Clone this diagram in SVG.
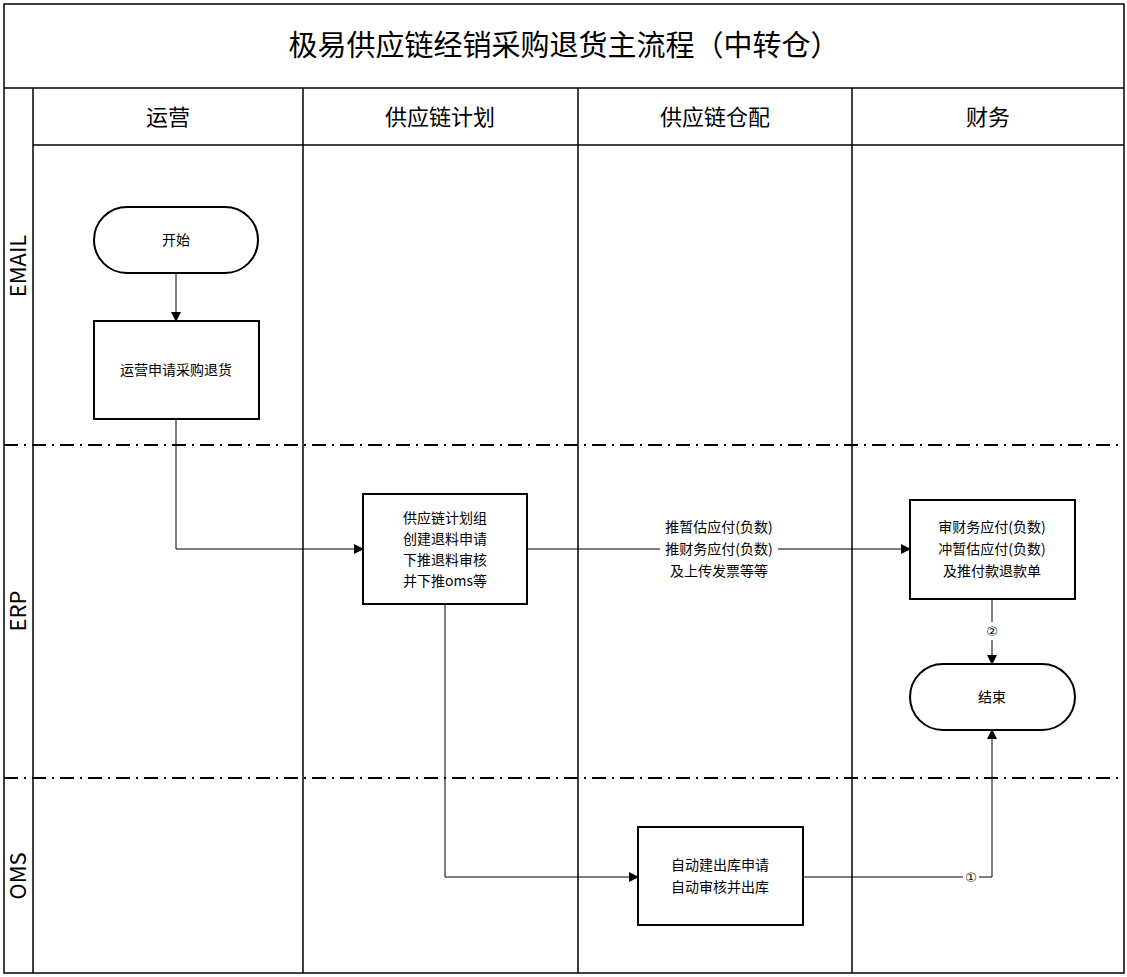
<svg xmlns="http://www.w3.org/2000/svg" width="1127" height="977" viewBox="0 0 1127 977">
<style>
text{font-family:"Noto Sans CJK SC","Liberation Sans",sans-serif;fill:#000;text-anchor:middle}
.n{fill:#fff;stroke:#000;stroke-width:2}
.t{font-size:14px}
.h{font-size:22px}
.g{fill:none;stroke:#000;stroke-width:1.5}
.c{fill:none;stroke:#000;stroke-width:1}
.dd{stroke:#000;stroke-width:2;stroke-dasharray:14 6 2 6}
.cn{font-size:13px;font-family:"DejaVu Sans",sans-serif}
</style>
<defs><marker id="a" markerWidth="10" markerHeight="10" refX="9" refY="5" orient="auto" markerUnits="userSpaceOnUse"><path d="M0,0L10,5L0,10z" fill="#000"/></marker></defs>
<rect width="1127" height="977" fill="#fff"/>
<g id="frame">
<rect x="4" y="4" width="1120" height="969" class="g"/>
<line x1="4" y1="88" x2="1124" y2="88" class="g"/>
<line x1="33" y1="145" x2="1124" y2="145" class="g"/>
<line x1="33" y1="88" x2="33" y2="973" class="g"/>
<line x1="303" y1="88" x2="303" y2="973" class="g"/>
<line x1="578" y1="88" x2="578" y2="973" class="g"/>
<line x1="852" y1="88" x2="852" y2="973" class="g"/>
<line x1="4" y1="445" x2="1124" y2="445" class="dd"/>
<line x1="4" y1="778" x2="1124" y2="778" class="dd"/>
<text x="564" y="56" style="font-size:29px">极易供应链经销采购退货主流程（中转仓）</text>
<text x="168" y="125" class="h">运营</text>
<text x="440" y="125" class="h">供应链计划</text>
<text x="715" y="125" class="h">供应链仓配</text>
<text x="988" y="125" class="h">财务</text>
<text transform="translate(26,266) rotate(-90)" class="h">EMAIL</text>
<text transform="translate(26,611) rotate(-90)" class="h">ERP</text>
<text transform="translate(26,876) rotate(-90)" class="h">OMS</text>
</g>
<g id="connectors">
<path d="M176,273V321" class="c" marker-end="url(#a)"/>
<path d="M176,419V549H363" class="c" marker-end="url(#a)"/>
<path d="M527,549H910" class="c" marker-end="url(#a)"/>
<path d="M992,599V664" class="c" marker-end="url(#a)"/>
<path d="M445,604V877H638" class="c" marker-end="url(#a)"/>
<path d="M803,877H992V730" class="c" marker-end="url(#a)"/>
<rect x="660" y="517" width="118" height="64" fill="#fff"/>
<text x="719" y="532" class="t">推暂估应付(负数)</text>
<text x="719" y="554" class="t">推财务应付(负数)</text>
<text x="719" y="576" class="t">及上传发票等等</text>
<rect x="984" y="622" width="16" height="18" fill="#fff"/>
<text x="992" y="636" class="cn">②</text>
<rect x="963" y="868" width="16" height="18" fill="#fff"/>
<text x="971" y="882" class="cn">①</text>
</g>
<g id="start"><rect x="94" y="207" width="164" height="66" rx="33" class="n"/><text x="176" y="245" class="t">开始</text></g>
<g id="apply"><rect x="94" y="321" width="165" height="98" class="n"/><text x="176" y="375" class="t">运营申请采购退货</text></g>
<g id="plan"><rect x="363" y="494" width="164" height="110" class="n"/>
<text x="445" y="523" class="t">供应链计划组</text><text x="445" y="544" class="t">创建退料申请</text><text x="445" y="565" class="t">下推退料审核</text><text x="445" y="586" class="t">并下推oms等</text></g>
<g id="finance"><rect x="910" y="500" width="165" height="99" class="n"/>
<text x="992" y="532" class="t">审财务应付(负数)</text><text x="992" y="554" class="t">冲暂估应付(负数)</text><text x="992" y="576" class="t">及推付款退款单</text></g>
<g id="end"><rect x="910" y="664" width="165" height="66" rx="33" class="n"/><text x="992" y="702" class="t">结束</text></g>
<g id="oms"><rect x="638" y="827" width="165" height="98" class="n"/>
<text x="720" y="870" class="t">自动建出库申请</text><text x="720" y="892" class="t">自动审核并出库</text></g>
</svg>
